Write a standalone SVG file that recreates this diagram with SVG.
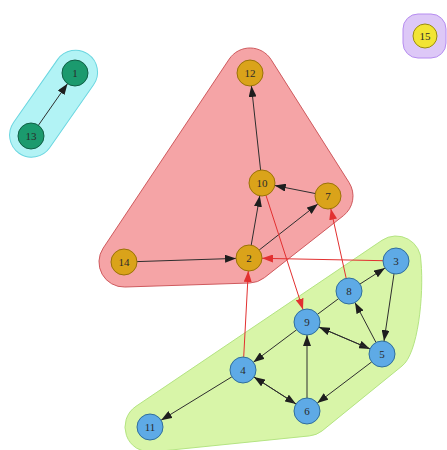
<svg xmlns="http://www.w3.org/2000/svg" width="447" height="450" viewBox="0 0 447 450">
  <style>
    .hull { stroke-width: 1; }
    .cyan { fill: #b2f3f5; stroke: #6ad6e0; }
    .red { fill: #f5a4a6; stroke: #cf5a5e; }
    .green { fill: #d8f5a8; stroke: #b4e482; }
    .purple { fill: #ddc8f7; stroke: #b68cf0; }
    .node circle { stroke-width: 1; }
    .teal circle { fill: #1b9a6e; stroke: #0f5e44; }
    .gold circle { fill: #daa31a; stroke: #9a7208; }
    .blue circle { fill: #5eaae6; stroke: #2f6e9c; }
    .yellow circle { fill: #f2e434; stroke: #9a8c10; }
    .node text { font-family: "Liberation Serif", serif; font-size: 11px; fill: #2a2a2a; text-anchor: middle; dominant-baseline: central; }
    .edge { stroke: #2e2e2e; stroke-width: 1; fill: none; marker-end: url(#arrow); }
    .edge.plain { marker-end: none; }
    .edge.hot { stroke: #e23030; marker-end: url(#arrow-red); }
  </style>
  <defs>
    <marker id="arrow" viewBox="0 0 11 8" refX="11" refY="4" markerWidth="11" markerHeight="8" markerUnits="userSpaceOnUse" orient="auto">
      <path d="M0,0 L11,4 L0,8 Z" fill="#1e1e1e"/>
    </marker>
    <marker id="arrow-red" viewBox="0 0 11 8" refX="11" refY="4" markerWidth="11" markerHeight="8" markerUnits="userSpaceOnUse" orient="auto">
      <path d="M0,0 L11,4 L0,8 Z" fill="#e23030"/>
    </marker>
  </defs>

  <!-- group outlines -->
  <g id="groups">
    <rect id="group-teal" class="hull cyan" x="-6.4" y="82.5" width="120.8" height="44" rx="22" transform="rotate(-55.1 53 104.5)"/>
    <path id="group-gold" class="hull red" d="M271.1,59.6 L349.1,182.6 A25,25 0 0 1 343.4,215.7 L264.4,277.7 A25,25 0 0 1 249.8,283 L124.8,287 A25,25 0 0 1 103.2,248.1 L229.2,59.1 A25,25 0 0 1 271.1,59.6 Z"/>
    <path id="group-blue" class="hull green" d="M382,240.3 A25,25 0 0 1 421,262 C424,295 418,354 402,366 L322.1,430.9 A25,25 0 0 1 309.5,435.9 L152.5,451.9 A25,25 0 0 1 136,406.3 Z"/>
    <rect id="group-yellow" class="hull purple" x="403" y="14" width="43" height="44" rx="15"/>
  </g>

  <!-- connectors -->
  <g id="edges">
    <line class="edge" x1="38.4" y1="125.3" x2="67.5" y2="83.7"/>
    <line class="edge" x1="260.6" y1="170.1" x2="251.4" y2="85.9"/>
    <line class="edge" x1="315.2" y1="193.5" x2="274.8" y2="185.5"/>
    <line class="edge" x1="251.2" y1="245.2" x2="259.8" y2="195.8"/>
    <line class="edge" x1="259.2" y1="250" x2="317.8" y2="204"/>
    <line class="edge" x1="137" y1="261.6" x2="236" y2="258.4"/>
    <line class="edge hot" x1="383" y1="260.7" x2="262" y2="258.3"/>
    <line class="edge hot" x1="266" y1="195.4" x2="303" y2="309.6"/>
    <line class="edge hot" x1="346.2" y1="278.3" x2="330.8" y2="208.7"/>
    <line class="edge hot" x1="243.7" y1="357" x2="248.3" y2="271"/>
    <line class="edge" x1="360" y1="284" x2="385" y2="268"/>
    <line class="edge" x1="394" y1="273.9" x2="384" y2="341.1"/>
    <line class="edge" x1="376" y1="342.5" x2="355" y2="302.5"/>
    <line class="edge" x1="319" y1="327.1" x2="370" y2="348.9"/>
    <line class="edge" x1="370" y1="348.9" x2="319" y2="327.1"/>
    <line class="edge plain" x1="317.5" y1="314.3" x2="338.5" y2="298.7"/>
    <line class="edge" x1="296.6" y1="329.8" x2="253.4" y2="362.2"/>
    <line class="edge" x1="307" y1="398" x2="307" y2="335"/>
    <line class="edge" x1="371.7" y1="361.9" x2="317.3" y2="403.1"/>
    <line class="edge" x1="254" y1="377" x2="296" y2="404"/>
    <line class="edge" x1="296" y1="404" x2="254" y2="377"/>
    <line class="edge" x1="231.9" y1="376.8" x2="161.1" y2="420.2"/>
  </g>

  <!-- vertices -->
  <g id="node-1" class="node teal"><circle cx="75" cy="73" r="13"/><text x="75" y="73">1</text></g>
  <g id="node-13" class="node teal"><circle cx="31" cy="136" r="13"/><text x="31" y="136">13</text></g>
  <g id="node-12" class="node gold"><circle cx="250" cy="73" r="13"/><text x="250" y="73">12</text></g>
  <g id="node-10" class="node gold"><circle cx="262" cy="183" r="13"/><text x="262" y="183">10</text></g>
  <g id="node-7" class="node gold"><circle cx="328" cy="196" r="13"/><text x="328" y="196">7</text></g>
  <g id="node-14" class="node gold"><circle cx="124" cy="262" r="13"/><text x="124" y="262">14</text></g>
  <g id="node-2" class="node gold"><circle cx="249" cy="258" r="13"/><text x="249" y="258">2</text></g>
  <g id="node-3" class="node blue"><circle cx="396" cy="261" r="13"/><text x="396" y="261">3</text></g>
  <g id="node-8" class="node blue"><circle cx="349" cy="291" r="13"/><text x="349" y="291">8</text></g>
  <g id="node-9" class="node blue"><circle cx="307" cy="322" r="13"/><text x="307" y="322">9</text></g>
  <g id="node-5" class="node blue"><circle cx="382" cy="354" r="13"/><text x="382" y="354">5</text></g>
  <g id="node-4" class="node blue"><circle cx="243" cy="370" r="13"/><text x="243" y="370">4</text></g>
  <g id="node-6" class="node blue"><circle cx="307" cy="411" r="13"/><text x="307" y="411">6</text></g>
  <g id="node-11" class="node blue"><circle cx="150" cy="427" r="13"/><text x="150" y="427">11</text></g>
  <g id="node-15" class="node yellow"><circle cx="425" cy="36" r="12"/><text x="425" y="36">15</text></g>
</svg>
